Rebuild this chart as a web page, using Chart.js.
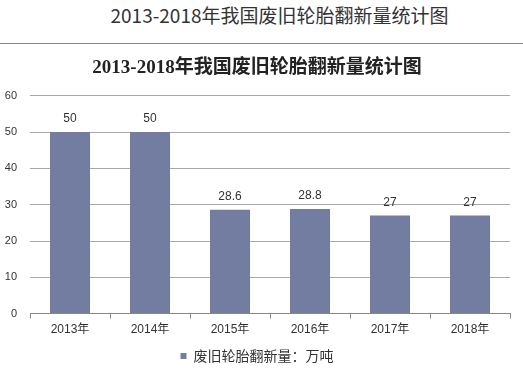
<!DOCTYPE html>
<html><head><meta charset="utf-8">
<script src="https://cdn.jsdelivr.net/npm/chart.js@4/dist/chart.umd.min.js"></script>
<style>
html,body{margin:0;padding:0;background:#fff;width:523px;height:373px;overflow:hidden;}
#hdr{position:absolute;left:0;top:0;width:523px;height:44px;border-bottom:1px solid #888;
 font-family:"Noto Sans CJK SC","Noto Sans",sans-serif;font-size:19px;color:#333;
 text-align:center;line-height:30px;padding-left:36px;box-sizing:border-box;}
#wrap{position:absolute;left:0;top:45px;width:523px;height:328px;}
</style></head><body>
<div id="hdr">2013-2018年我国废旧轮胎翻新量统计图</div>
<div id="wrap"><canvas id="c" width="523" height="328"></canvas></div>
<script>
const categories = ["2013年","2014年","2015年","2016年","2017年","2018年"];
const values = [50, 50, 28.6, 28.8, 27, 27];
const seriesName = "废旧轮胎翻新量：万吨";
const chartTitle = "2013-2018年我国废旧轮胎翻新量统计图";

const labelPlugin = {
  id: 'vlabels',
  afterDatasetsDraw(chart){
    const ctx = chart.ctx;
    const meta = chart.getDatasetMeta(0);
    ctx.save();
    ctx.font = '12px "Liberation Sans", Arial, sans-serif';
    ctx.fillStyle = '#333';
    ctx.textAlign = 'center';
    ctx.textBaseline = 'middle';
    meta.data.forEach((bar,i)=>{
      ctx.fillText(String(values[i]), bar.x, bar.y - 13);
    });
    ctx.restore();
  }
};

new Chart(document.getElementById('c'), {
  type: 'bar',
  data: { labels: categories, datasets: [{ label: seriesName, data: values,
    backgroundColor: '#727DA1', barPercentage: 0.5, categoryPercentage: 1.0 }] },
  options: {
    responsive: false, animation: false,
    layout: { padding: { left: 4, right: 13, top: 0, bottom: 0 } },
    plugins: {
      title: { display: true, text: chartTitle, color: '#222',
        font: { family: '"Liberation Serif","Noto Sans CJK SC",serif', size: 19, weight: 'bold' },
        padding: { top: 12, bottom: 16 } },
      legend: { position: 'bottom', labels: { boxWidth: 6, boxHeight: 6, color: '#333',
        font: { family: '"Noto Sans CJK SC",sans-serif', size: 14 }, padding: 8 } },
      tooltip: { enabled: false }
    },
    scales: {
      x: { grid: { display: true, drawOnChartArea: false, offset: true, tickLength: 5, color: '#888' },
        border: { color: '#888' },
        ticks: { color: '#333', font: { family: '"Liberation Sans","Noto Sans CJK SC",sans-serif', size: 12 }, padding: 4 } },
      y: { min: 0, max: 60, ticks: { stepSize: 10, color: '#333', padding: 13,
          font: { family: '"Liberation Sans",Arial,sans-serif', size: 11 } },
        grid: { color: '#aaa', tickLength: 0 }, border: { display: false },
        afterFit(scale){ scale.width = 26; } }
    }
  },
  plugins: [labelPlugin]
});
</script>
</body></html>
